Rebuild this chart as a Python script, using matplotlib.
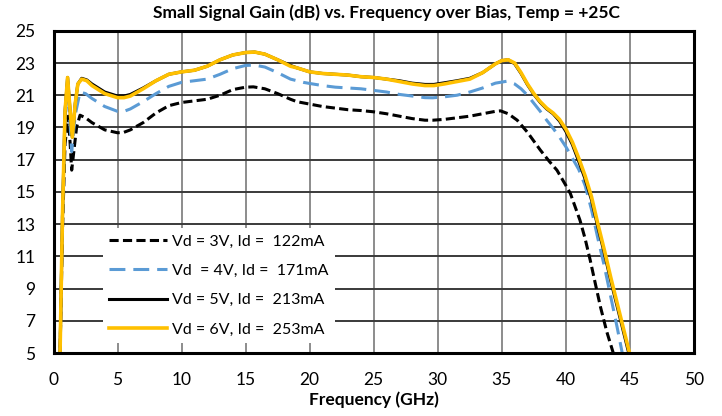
import numpy as np
import matplotlib
matplotlib.use("Agg")
import matplotlib.pyplot as plt

plt.rcParams['font.family'] = ['Lato', 'DejaVu Sans']

# Vd = 3V
f3 = [0.5, 0.7, 0.9, 1.15, 1.3, 1.42, 1.6, 1.8, 2.07, 2.5, 3, 4, 5, 5.5, 6, 7, 8, 9, 10, 11, 12, 13, 14, 15, 15.6,
      16.5, 17.5, 18.5, 19, 20, 21, 22, 23, 24, 25, 26, 27, 28, 29, 29.6, 30.5, 31.5, 32.5, 33.5, 34.5, 34.9, 35.5,
      36.2, 37, 38, 38.7, 39.3, 40, 40.35, 41.1, 41.5, 41.9, 42.3, 42.7, 43.2, 43.7, 43.9]
g3 = [4.5, 12.5, 18.0, 19.7, 18.0, 16.35, 17.6, 19.0, 19.76, 19.6, 19.3, 18.85, 18.67, 18.7, 18.85, 19.3, 19.9, 20.35,
      20.55, 20.65, 20.75, 21.0, 21.35, 21.5, 21.52, 21.4, 21.1, 20.75, 20.6, 20.45, 20.3, 20.2, 20.1, 20.05, 19.97,
      19.85, 19.7, 19.55, 19.45, 19.45, 19.5, 19.6, 19.7, 19.85, 20.0, 20.03, 19.85, 19.45, 18.7, 17.6, 16.9, 16.35,
      15.4, 14.9, 13.24, 12.1, 10.76, 9.3, 7.86, 6.3, 5.0, 4.4]

# Vd = 4V
f4 = [0.5, 0.7, 0.9, 1.1, 1.25, 1.42, 1.7, 2.07, 2.5, 3, 4, 5, 5.5, 6, 7, 8, 9, 10, 11, 12, 13, 14, 15, 15.7, 16.5,
      17.5, 18.5, 19.5, 20, 21, 22, 23, 24, 25, 26, 27, 28, 29, 29.6, 30.5, 31.5, 32.5, 33.5, 34.5, 35.4, 36, 36.5,
      37, 37.5, 38, 38.5, 39, 39.5, 40, 40.5, 41, 41.5, 42, 42.5, 43, 43.5, 44, 44.5]
g4 = [4.5, 13.5, 19.5, 21.6, 19.8, 17.5, 19.8, 21.2, 21.1, 20.8, 20.3, 20.0, 20.0, 20.15, 20.6, 21.1, 21.55, 21.8,
      21.9, 22.0, 22.3, 22.65, 22.85, 22.87, 22.75, 22.4, 22.0, 21.8, 21.73, 21.6, 21.5, 21.45, 21.4, 21.3, 21.2,
      21.05, 20.95, 20.85, 20.84, 20.9, 21.0, 21.2, 21.45, 21.75, 21.87, 21.7, 21.4, 21.0, 20.5, 20.0, 19.45, 18.95,
      18.4, 17.8, 17.1, 16.4, 15.4, 13.9, 12.1, 10.4, 8.5, 6.6, 4.6]

# Vd = 5V
f5 = [0.5, 0.7, 0.9, 1.1, 1.3, 1.47, 1.7, 1.9, 2.2, 2.6, 3, 4, 5, 5.5, 6, 7, 8, 9, 10, 11, 12, 13, 14, 15, 15.7,
      16.5, 17.5, 18.5, 19, 20, 21, 22, 23, 24, 25, 26, 27, 28, 29, 29.7, 30.5, 31.5, 32.5, 33.5, 34.5, 35.0, 35.5,
      36, 36.5, 37, 37.5, 38, 38.5, 39, 39.5, 40, 40.5, 41, 41.5, 42, 42.5, 43, 43.5, 44, 44.5, 45, 45.3]
g5 = [4.5, 13.5, 20.0, 22.1, 20.0, 18.4, 20.5, 21.7, 22.05, 21.95, 21.7, 21.2, 20.95, 20.95, 21.05, 21.45, 21.9,
      22.3, 22.45, 22.55, 22.8, 23.2, 23.5, 23.65, 23.68, 23.55, 23.2, 22.85, 22.7, 22.45, 22.35, 22.3, 22.25, 22.15,
      22.1, 22.0, 21.9, 21.75, 21.67, 21.67, 21.77, 21.9, 22.05, 22.4, 22.95, 23.15, 23.2, 22.95, 22.35, 21.65, 21.05,
      20.55, 20.15, 19.85, 19.4, 18.75, 17.95, 16.9, 15.8, 14.5, 12.8, 11.2, 9.5, 7.9, 6.3, 4.7, 3.8]

# Vd = 6V
f6 = [0.5, 0.7, 0.9, 1.1, 1.3, 1.47, 1.7, 1.9, 2.2, 2.6, 3, 4, 5, 5.5, 6, 7, 8, 9, 10, 11, 12, 13, 14, 15, 15.7,
      16.5, 17.5, 18.5, 19, 20, 21, 22, 23, 24, 25, 26, 27, 28, 29, 29.7, 30.5, 31.5, 32.5, 33.5, 34.5, 35.0, 35.5,
      36, 36.5, 37, 37.5, 38, 38.5, 39, 39.5, 40, 40.5, 41, 41.5, 42, 42.5, 43, 43.5, 44, 44.5, 45, 45.3]
g6 = [4.5, 13.5, 20.0, 22.1, 20.0, 18.4, 20.5, 21.7, 22.0, 21.9, 21.6, 21.1, 20.85, 20.85, 20.95, 21.4, 21.9, 22.3,
      22.45, 22.55, 22.8, 23.2, 23.5, 23.65, 23.68, 23.55, 23.2, 22.8, 22.7, 22.45, 22.35, 22.3, 22.25, 22.15, 22.1,
      22.0, 21.85, 21.7, 21.6, 21.6, 21.7, 21.85, 22.0, 22.4, 22.95, 23.15, 23.2, 23.0, 22.4, 21.7, 21.1, 20.6, 20.2,
      19.9, 19.5, 18.9, 18.1, 17.1, 16.0, 14.7, 13.0, 11.4, 9.7, 8.1, 6.5, 4.9, 4.0]

labels = ["Vd = 3V, Id =  122mA", "Vd  = 4V, Id =  171mA", "Vd = 5V, Id =  213mA", "Vd = 6V, Id =  253mA"]

fig = plt.figure(figsize=(7.22, 4.16), dpi=100)
ax = fig.add_axes([0.0741, 0.1514, 0.8871, 0.7746])

ax.plot(f3, g3, color='black', lw=2.2, dashes=(3, 1.4), label=labels[0])
ax.plot(f4, g4, color='#5B9BD5', lw=2.2, dashes=(5.2, 2.6), label=labels[1])
ax.plot(f5, g5, color='black', lw=2.2, label=labels[2])
ax.plot(f6, g6, color='#FFC000', lw=2.6, label=labels[3])

ax.set_xlim(0, 50)
ax.set_ylim(5, 25)
ax.set_xticks(np.arange(0, 51, 5))
ax.set_yticks(np.arange(5, 26, 2))
ax.grid(axis='y', color='#3a3a3a', lw=1.4)
ax.grid(axis='x', color='#8c8c8c', lw=1.4)
ax.set_axisbelow(True)
ax.tick_params(length=0, labelsize=12.5)
ax.tick_params(axis='x', pad=14)
ax.tick_params(axis='y', pad=13)
for s in ax.spines.values():
    s.set_linewidth(2.2)
    s.set_color('black')

ax.set_title("Small Signal Gain (dB) vs. Frequency over Bias, Temp = +25C", fontsize=12.5, fontweight='bold',
             pad=9, x=0.52)
ax.set_xlabel("Frequency (GHz)", fontsize=12.5, fontweight='bold', labelpad=2)

leg = ax.legend(loc='lower left', bbox_to_anchor=(0.077, 0.031), fontsize=11.5, frameon=True,
                fancybox=False, framealpha=1, handlelength=3.6, handletextpad=0.35, labelspacing=0.95,
                borderpad=0.4, borderaxespad=0)
leg.get_frame().set_edgecolor('none')
leg.get_frame().set_facecolor('white')

fig.savefig("out.png", dpi=100)
